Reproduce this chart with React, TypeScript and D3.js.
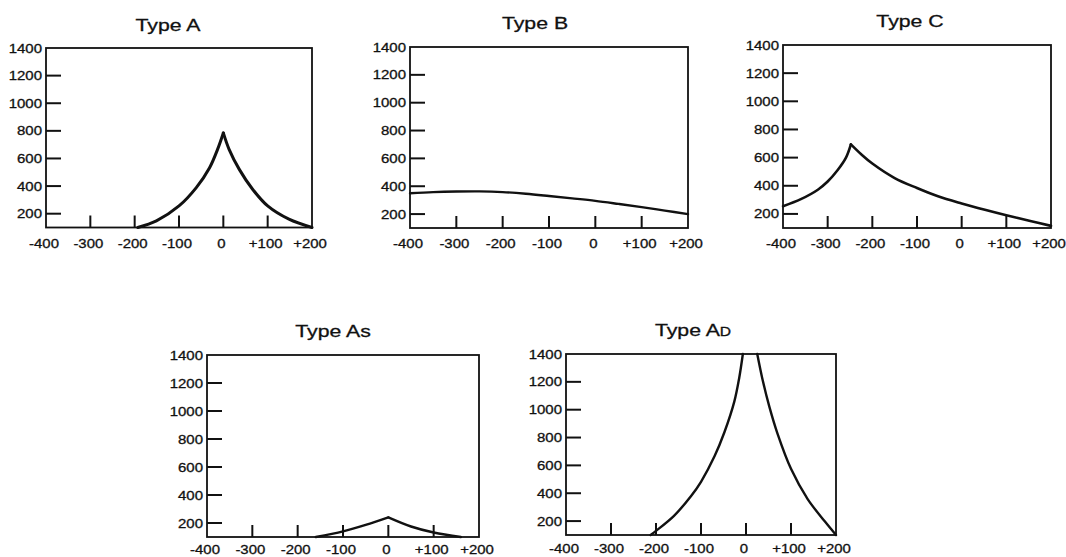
import React from "react";
import * as d3 from "d3";

// ---- axis values ----
const xDomain: [number, number] = [-400, 200];
const yDomain: [number, number] = [100, 1400];
const xTickValues = [-300, -200, -100, 0, 100];
const xLabelValues = [-400, -300, -200, -100, 0, 100, 200];
const xLabelTexts = ["-400", "-300", "-200", "-100", "0", "+100", "+200"];
const yTickValues = [200, 400, 600, 800, 1000, 1200];
const yLabelValues = [200, 400, 600, 800, 1000, 1200, 1400];

// ---- series (x: pressure daPa, y: admittance) ----
const typeALeft: [number, number][] = [[-193, 100], [-151, 148], [-100, 256], [-61, 389], [-31, 533], [-13, 666], [0, 785]];
const typeARight: [number, number][] = [[0, 785], [13, 666], [36, 521], [66, 377], [100, 256], [148, 160], [200, 100]];

const typeB: [number, number][] = [
  [-400, 350], [-350, 358], [-300, 362], [-250, 363], [-200, 358], [-150, 346], [-100, 330],
  [-50, 313], [0, 295], [50, 273], [100, 250], [150, 225], [200, 200],
];

const typeCLeft: [number, number][] = [[-400, 255], [-360, 305], [-322, 372], [-300, 430], [-278, 510], [-259, 600], [-248, 694]];
const typeCRight: [number, number][] = [
  [-248, 694], [-225, 624], [-200, 558], [-150, 455], [-100, 384], [-53, 325], [0, 274],
  [52, 229], [100, 190], [156, 148], [200, 115],
];

const typeAsLeft: [number, number][] = [[-160, 100], [-100, 140], [-50, 186], [0, 240]];
const typeAsRight: [number, number][] = [[0, 240], [50, 175], [100, 132], [160, 100]];

const typeADLeft: [number, number][] = [
  [-212, 100], [-200, 130], [-160, 238], [-122, 380], [-100, 482], [-70, 665], [-48, 838], [-26, 1058], [-15, 1230], [-7, 1400],
];
const typeADRight: [number, number][] = [
  [25, 1400], [37, 1213], [52, 1020], [70, 828], [100, 575], [137, 358], [175, 198], [200, 100],
];

const titles = ["Type A", "Type B", "Type C", "Type As", "Type AD"];

type Panel = {
  title: string;
  left: number; top: number; right: number; bottom: number;
  titleX: number; titleY: number; labelDy: number;
  branches: [number, number][][];
  sw: number;
};

const panels: Panel[] = [
  { title: titles[0], left: 46, top: 48, right: 312, bottom: 227.5, titleX: 168, titleY: 31, labelDy: 20, branches: [typeALeft, typeARight], sw: 3 },
  { title: titles[1], left: 410, top: 47, right: 688, bottom: 228, titleX: 535, titleY: 29, labelDy: 19.5, branches: [typeB], sw: 2.4 },
  { title: titles[2], left: 783, top: 45, right: 1051, bottom: 228, titleX: 910, titleY: 27, labelDy: 19.5, branches: [typeCLeft, typeCRight], sw: 2.6 },
  { title: titles[3], left: 207, top: 355, right: 479, bottom: 537, titleX: 333, titleY: 337, labelDy: 17, branches: [typeAsLeft, typeAsRight], sw: 2.4 },
  { title: titles[4], left: 566, top: 354, right: 836, bottom: 535, titleX: 693, titleY: 336, labelDy: 18, branches: [typeADLeft, typeADRight], sw: 2.4 },
];

const FONT = "'Liberation Sans', Arial, Helvetica, sans-serif";
const INK = "#111";

function Label({ x, y, anchor, size, sx, children, dy }: any) {
  return (
    <text
      transform={`translate(${x},${y}) scale(${sx},1)`}
      textAnchor={anchor}
      fontSize={size}
      fontFamily={FONT}
      fill={INK}
      stroke={INK}
      strokeWidth={0.3}
      dy={dy}
    >
      {children}
    </text>
  );
}

function ChartPanel({ p }: { p: Panel }) {
  const x = d3.scaleLinear().domain(xDomain).range([p.left, p.right]);
  const y = d3.scaleLinear().domain(yDomain).range([p.bottom, p.top]);
  const line = d3
    .line<[number, number]>()
    .x((d) => x(d[0]))
    .y((d) => y(d[1]))
    .curve(d3.curveCatmullRom.alpha(0.5));
  const isAD = p.title === "Type AD";
  return (
    <g>
      {isAD ? (
        <Label x={p.titleX} y={p.titleY} anchor="middle" size={17} sx={1.25} dy={0}>
          Type A<tspan fontSize={12.5}>D</tspan>
        </Label>
      ) : (
        <Label x={p.titleX} y={p.titleY} anchor="middle" size={17} sx={1.25} dy={0}>
          {p.title}
        </Label>
      )}
      <rect
        x={p.left}
        y={p.top}
        width={p.right - p.left}
        height={p.bottom - p.top}
        fill="none"
        stroke={INK}
        strokeWidth={1.8}
      />
      {xTickValues.map((v) => (
        <line key={"xt" + v} x1={x(v)} x2={x(v)} y1={p.bottom} y2={p.bottom - 12} stroke={INK} strokeWidth={2} />
      ))}
      {yTickValues.map((v) => (
        <line key={"yt" + v} x1={p.left} x2={p.left + 15} y1={y(v)} y2={y(v)} stroke={INK} strokeWidth={2} />
      ))}
      {xLabelValues.map((v, i) => (
        <Label key={"xl" + v} x={x(v) - 2} y={p.bottom + p.labelDy} anchor="middle" size={13} sx={1.15} dy={0}>
          {xLabelTexts[i]}
        </Label>
      ))}
      {yLabelValues.map((v) => (
        <Label key={"yl" + v} x={p.left - 4} y={y(v)} anchor="end" size={12.5} sx={1.2} dy="0.36em">
          {String(v)}
        </Label>
      ))}
      {p.branches.map((b, i) => (
        <path
          key={"b" + i}
          d={line(b) || ""}
          fill="none"
          stroke={INK}
          strokeWidth={p.sw}
          strokeLinejoin="round"
          strokeLinecap="round"
        />
      ))}
    </g>
  );
}

export default function App() {
  return (
    <svg
      width={1066}
      height={557}
      viewBox="0 0 1066 557"
      style={{ position: "absolute", left: 0, top: 0, background: "#fff", display: "block" }}
    >
      <rect x={0} y={0} width={1066} height={557} fill="#fff" />
      {panels.map((p) => (
        <ChartPanel key={p.title} p={p} />
      ))}
    </svg>
  );
}
